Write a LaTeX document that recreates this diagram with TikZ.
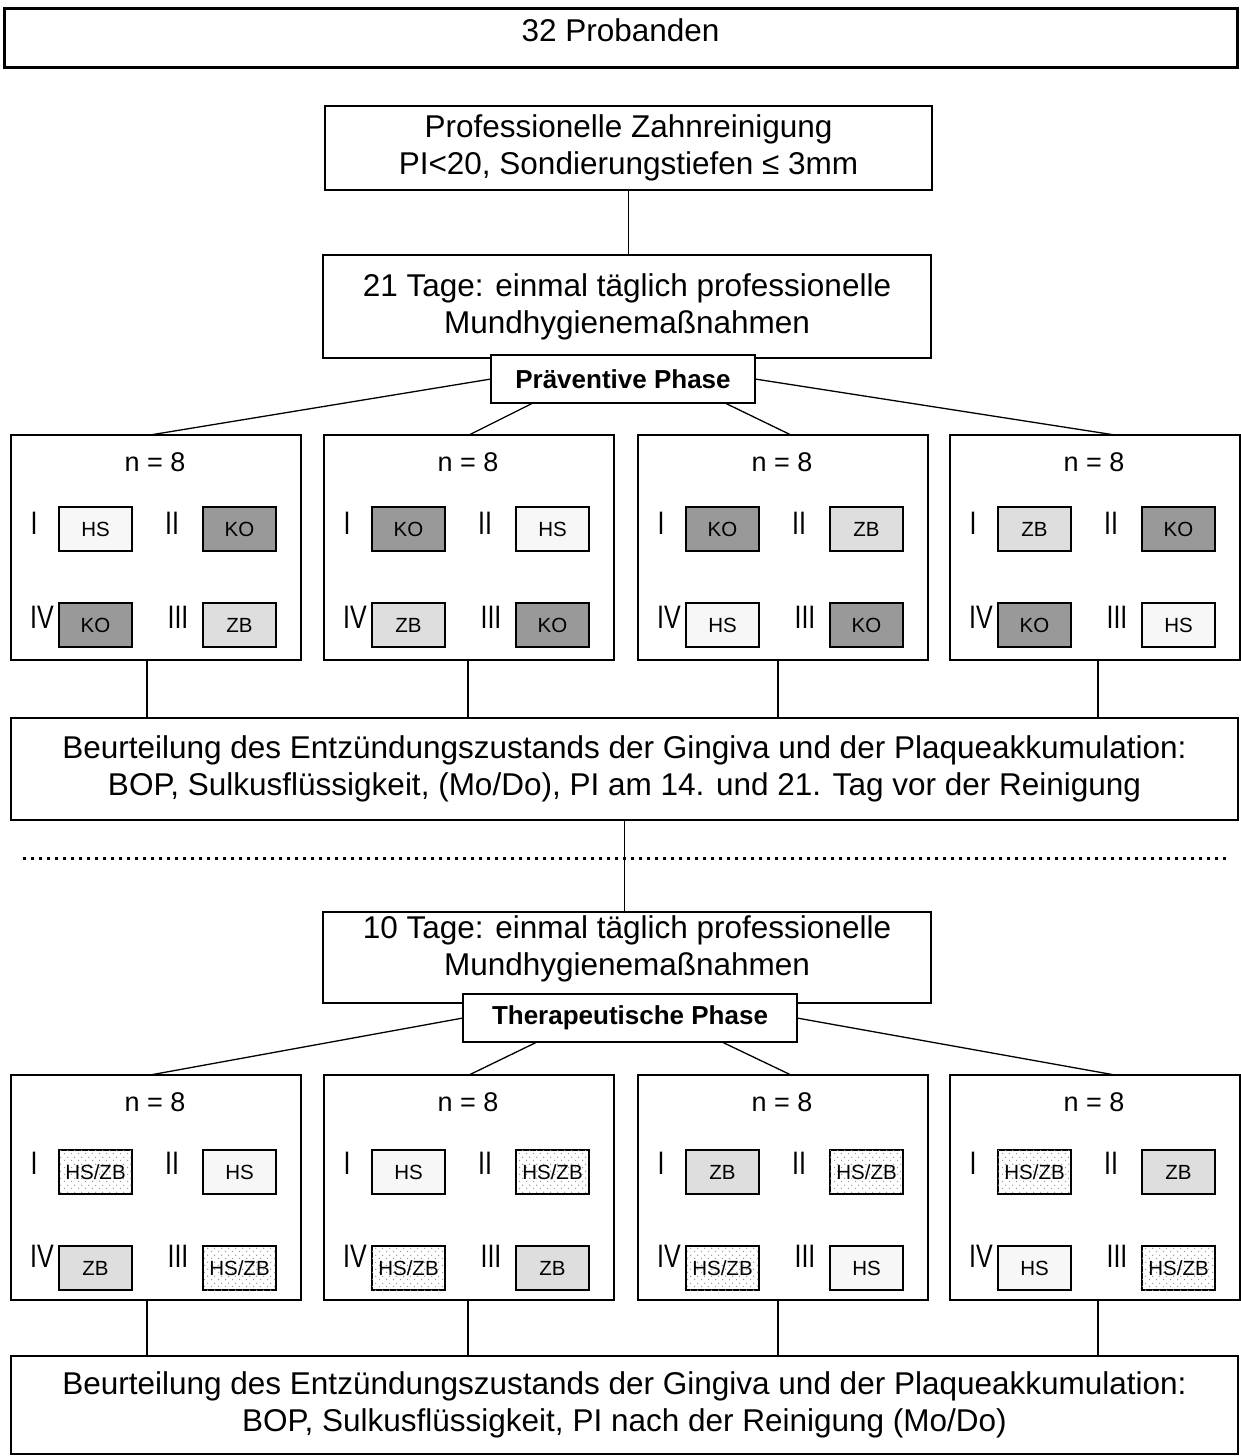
\documentclass[tikz,border=0pt]{standalone}
\usepackage{fontspec}
\setmainfont{Liberation Sans}
\usetikzlibrary{patterns.meta,calc}
\tikzdeclarepattern{name=sparsedots, type=uncolored,
  bounding box={(0pt,0pt) and (7pt,7pt)}, tile size={(7pt,7pt)},
  code={\fill (1.75pt,1.75pt) circle (0.8pt); \fill (5.25pt,5.25pt) circle (0.8pt);}}
\def\txths{HS}\def\txtko{KO}\def\txtzb{ZB}\def\txthz{HS/ZB}
\begin{document}
\begin{tikzpicture}[x=1pt,y=-1pt,
  every node/.style={inner sep=0pt, outer sep=0pt},
  box/.style={draw, line width=1.3pt, fill=white, anchor=north west},
  big/.style={font=\fontsize{31.5}{37}\selectfont, align=center},
  phase/.style={draw, line width=1.3pt, fill=white, font=\fontsize{26}{30}\selectfont\bfseries},
  nlabel/.style={font=\fontsize{27}{27}\selectfont},
  roman/.style={font=\fontsize{25}{25}\selectfont},
  sub/.style={draw, line width=1.3pt, anchor=north west, minimum width=73pt, minimum height=44pt, font=\fontsize{20.5}{22}\selectfont},
  hsbox/.style={sub, fill=black!3},
  kobox/.style={sub, fill=black!40},
  zbbox/.style={sub, fill=black!13},
  hzbox/.style={sub, fill=white, postaction={pattern={sparsedots}, pattern color=black!40}},
  conn/.style={line width=1.3pt},
]
\useasboundingbox (0,0) rectangle (1240,1456);

% top
\node[draw, line width=3pt, anchor=north west, minimum width=1233pt, text height=33pt, text depth=26pt,
  font=\fontsize{31.5}{37}\selectfont] (top) at (4,8) {32 Probanden};

\node[box, big, minimum width=607pt, minimum height=84pt] (pz) at (325,106)
  {Professionelle Zahnreinigung\\PI<20, Sondierungstiefen ≤ 3mm};
\node[box, big, minimum width=608pt, minimum height=103pt] (t21) at (323,255)
  {21 Tage: einmal täglich professionelle\\Mundhygienemaßnahmen};
\draw[conn] (pz.south) -- (pz.south |- t21.north);

\node[phase, minimum width=264pt, minimum height=48pt] (pv) at (623,379) {Präventive Phase};

% preventive groups
\foreach \gx/\a/\b/\c/\d/\o [count=\i] in {11/hs/ko/ko/zb/-9, 324/ko/hs/zb/ko/-1, 638/ko/zb/hs/ko/-5, 950/zb/ko/ko/hs/3}{
  \node[box, minimum width=290pt, minimum height=225pt] (p\i) at (\gx,435) {};
  \node[nlabel] (pn\i) at (\gx+144,462) {n = 8};
  \node[roman] (pI\i) at (\gx+23,523) {\scalebox{1}[1.3]{I}};
  \node[roman] (pII\i) at (\gx+161,523) {\scalebox{1}[1.3]{II}};
  \node[roman] (pIV\i) at (\gx+31,617) {\scalebox{1}[1.3]{IV}};
  \node[roman] (pIII\i) at (\gx+167,617) {\scalebox{1}[1.3]{III}};
  \node[\a box] (pa\i) at (\gx+48,507) {\csname txt\a\endcsname};
  \node[\b box] (pb\i) at (\gx+192,507) {\csname txt\b\endcsname};
  \node[\c box] (pc\i) at (\gx+48,603) {\csname txt\c\endcsname};
  \node[\d box] (pd\i) at (\gx+192,603) {\csname txt\d\endcsname};
  \coordinate (ps\i) at ([xshift=\o pt]p\i.south);
}

\draw[conn] (pv.west) -- ([xshift=-6pt]p1.north);
\draw[conn] ([xshift=-90pt]pv.south) -- (p2.north);
\draw[conn] ([xshift=102pt]pv.south) -- ([xshift=8pt]p3.north);
\draw[conn] (pv.east) -- ([xshift=20pt]p4.north);

\node[box, big, minimum width=1227pt, minimum height=102pt] (b1) at (11,718)
  {Beurteilung des Entzündungszustands der Gingiva und der Plaqueakkumulation:\\
   BOP, Sulkusflüssigkeit, (Mo/Do), PI am 14. und 21. Tag vor der Reinigung};
\foreach \i in {1,...,4}{\draw[conn] (ps\i) -- (ps\i |- b1.north);}

% dotted separator
\coordinate (dl) at (23,858);
\coordinate (dr) at (1228,858);
\draw[line width=3pt, dash pattern=on 3pt off 5pt] (dl) -- (dr);

\node[box, minimum width=608pt, minimum height=91pt] (t10) at (323,912) {};
\node[big] (t10t) at (627,949) {10 Tage: einmal täglich professionelle\\Mundhygienemaßnahmen};
\draw[conn] (b1.south) -- (b1.south |- t10.north);

\node[phase, minimum width=334pt, minimum height=48pt] (th) at (630,1018) {Therapeutische Phase};

% therapeutic groups
\foreach \gx/\a/\b/\c/\d/\o [count=\i] in {11/hz/hs/zb/hz/-9, 324/hs/hz/hz/zb/-1, 638/zb/hz/hz/hs/-5, 950/hz/zb/hs/hz/3}{
  \node[box, minimum width=290pt, minimum height=225pt] (q\i) at (\gx,1075) {};
  \node[nlabel] (qn\i) at (\gx+144,1102) {n = 8};
  \node[roman] (qI\i) at (\gx+23,1163) {\scalebox{1}[1.3]{I}};
  \node[roman] (qII\i) at (\gx+161,1163) {\scalebox{1}[1.3]{II}};
  \node[roman] (qIV\i) at (\gx+31,1256) {\scalebox{1}[1.3]{IV}};
  \node[roman] (qIII\i) at (\gx+167,1256) {\scalebox{1}[1.3]{III}};
  \node[\a box] (qa\i) at (\gx+48,1150) {\csname txt\a\endcsname};
  \node[\b box] (qb\i) at (\gx+192,1150) {\csname txt\b\endcsname};
  \node[\c box] (qc\i) at (\gx+48,1246) {\csname txt\c\endcsname};
  \node[\d box] (qd\i) at (\gx+192,1246) {\csname txt\d\endcsname};
  \coordinate (qs\i) at ([xshift=\o pt]q\i.south);
}

\draw[conn] (th.west) -- ([xshift=-6pt]q1.north);
\draw[conn] ([xshift=-93pt]th.south) -- (q2.north);
\draw[conn] ([xshift=92pt]th.south) -- ([xshift=8pt]q3.north);
\draw[conn] (th.east) -- ([xshift=20pt]q4.north);

\node[box, big, minimum width=1227pt, minimum height=98pt] (b2) at (11,1356)
  {Beurteilung des Entzündungszustands der Gingiva und der Plaqueakkumulation:\\
   BOP, Sulkusflüssigkeit,  PI nach der Reinigung (Mo/Do)};
\foreach \i in {1,...,4}{\draw[conn] (qs\i) -- (qs\i |- b2.north);}
\end{tikzpicture}
\end{document}
